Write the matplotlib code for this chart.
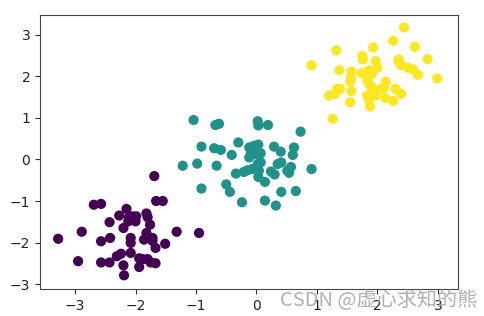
import numpy as np
import matplotlib
matplotlib.use("Agg")
import matplotlib.pyplot as plt

# cluster 0 (purple)
x0 = [-3.28, -2.95, -2.89, -2.69, -2.57, -2.57, -2.57, -2.43, -2.43, -2.42, -2.31, -2.27,
      -2.20, -2.20, -2.19, -2.15, -2.11, -2.12, -2.05, -2.08, -2.08, -2.08, -2.00, -1.99,
      -1.94, -1.94, -1.88, -1.86, -1.82, -1.80, -1.76, -1.82, -1.80, -1.72, -1.67, -1.67,
      -1.69, -1.66, -1.55, -1.51, -1.32, -0.95, -2.24, -1.75, -1.72]
y0 = [-1.91, -2.45, -1.74, -1.09, -1.07, -1.97, -2.48, -2.48, -1.51, -1.89, -2.33, -1.35,
      -1.65, -2.55, -2.79, -1.19, -1.39, -1.49, -1.37, -1.89, -2.01, -2.25, -1.49, -1.37,
      -2.38, -2.59, -2.40, -1.93, -1.30, -1.39, -1.57, -1.77, -2.40, -1.96, -2.13, -2.50,
      -0.40, -1.00, -1.00, -2.03, -1.74, -1.77, -2.27, -2.48, -1.89]

# cluster 1 (teal)
x1 = [-1.04, -0.68, -0.62, 0.02, 0.03, 0.19, 0.73, -0.91, -0.70, -0.59, -0.41, -0.30,
      -0.12, -0.04, 0.03, -0.09, -0.01, 0.07, -0.12, 0.29, 0.40, 0.62, 0.60, -1.22,
      -0.98, -0.66, -0.34, -0.21, -0.15, -0.07, 0.02, 0.07, 0.04, 0.24, 0.30, 0.35,
      0.41, 0.51, 0.57, 0.54, 0.91, 0.03, 0.14, -0.50, -0.44, -0.91, -0.24, 0.14,
      0.32, 0.41, 0.65]
y1 = [0.95, 0.83, 0.86, 0.92, 0.82, 0.83, 0.67, 0.31, 0.27, 0.23, 0.11, 0.41,
      0.29, 0.33, 0.36, 0.17, 0.13, 0.15, 0.05, 0.31, 0.19, 0.29, 0.11, -0.15,
      -0.10, -0.15, -0.34, -0.30, -0.26, -0.23, -0.11, -0.07, -0.27, -0.29, -0.36, -0.11,
      -0.07, -0.27, -0.18, -0.32, -0.23, -0.42, -0.54, -0.60, -0.78, -0.70, -1.03, -0.99,
      -1.11, -0.78, -0.76]

# cluster 2 (yellow)
x2 = [2.44, 2.26, 2.62, 1.93, 1.32, 0.91, 1.75, 1.76, 1.97, 2.35, 2.83, 1.37,
      1.57, 1.74, 1.86, 2.00, 1.91, 1.56, 1.55, 1.83, 1.86, 1.91, 1.97, 2.06,
      2.14, 2.11, 2.39, 2.51, 2.59, 2.67, 2.99, 1.33, 1.38, 1.20, 1.30, 1.57,
      1.55, 1.83, 1.92, 1.86, 1.88, 2.13, 2.26, 2.30, 2.39, 1.26, 1.97, 2.35]
y2 = [3.18, 2.86, 2.71, 2.70, 2.63, 2.27, 2.49, 2.41, 2.37, 2.41, 2.42, 2.15,
      2.12, 2.08, 2.15, 2.21, 2.07, 1.96, 1.88, 1.91, 1.83, 1.73, 1.66, 1.70,
      1.87, 1.73, 2.27, 2.21, 2.17, 2.04, 1.95, 1.70, 1.70, 1.54, 1.58, 1.65,
      1.38, 1.54, 1.54, 1.44, 1.28, 1.48, 1.41, 1.70, 1.58, 0.98, 1.54, 2.37]

X = np.array(x0 + x1 + x2)
Y = np.array(y0 + y1 + y2)
labels = np.array([0] * len(x0) + [1] * len(x1) + [2] * len(x2))

fig = plt.figure(figsize=(4.85, 3.16), dpi=100)
ax = fig.add_axes([0.0825, 0.0854, 0.8615, 0.8671])
ax.scatter(X, Y, c=labels, cmap="viridis", s=40)
ax.set_xlim(-3.58, 3.33)
ax.set_ylim(-3.12, 3.48)
ax.set_xticks([-3, -2, -1, 0, 1, 2, 3])
ax.set_yticks([-3, -2, -1, 0, 1, 2, 3])
ax.tick_params(labelsize=10, colors="#333333", labelcolor="#222222")
for s in ax.spines.values():
    s.set_color("#444444")

fig.text(0.577, 0.032, "CSDN @虚心求知的熊", fontsize=14.5, color="#a8a8a8", alpha=0.9,
         family=["Noto Sans CJK SC", "DejaVu Sans"])

fig.savefig("out.png", dpi=100)
